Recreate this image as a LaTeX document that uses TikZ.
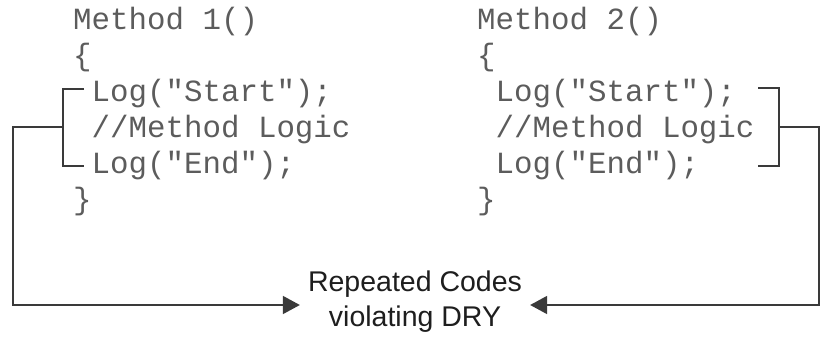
\documentclass[tikz,border=0pt]{standalone}
\usepackage{fontspec}
\setmainfont{Liberation Sans}
\newfontfamily\codefont{Liberation Mono}
\usetikzlibrary{arrows.meta}
\definecolor{codegray}{RGB}{92,92,92}
\definecolor{linegray}{RGB}{58,58,58}
\definecolor{txtdark}{RGB}{30,30,30}
\tikzset{
  code/.style={anchor=base west, inner sep=0pt, text=codegray, font=\codefont\fontsize{30.8}{36}\selectfont},
  brk/.style={draw=linegray, line width=1.7pt},
  arr/.style={brk, -{Triangle[length=17pt,width=18pt]}},
  lbl/.style={align=center, inner xsep=8pt, inner ysep=4pt, text=txtdark, font=\fontsize{28.5}{35}\selectfont}
}
\begin{document}
\begin{tikzpicture}[x=1pt,y=-1pt]
  \useasboundingbox (0,0) rectangle (820,337);
  % first method
  \node[code] (m1head) at (73,29.3) {Method 1()};
  \node[code] (m1open) at (73,65.3) {\{};
  \node[code] (m1start) at (91.5,101.3) {Log("Start");};
  \node[code] (m1logic) at (91.5,137.3) {//Method Logic};
  \node[code] (m1end) at (91.5,173.3) {Log("End");};
  \node[code] (m1close) at (73,209.3) {\}};
  % second method
  \node[code] (m2head) at (477,29.3) {Method 2()};
  \node[code] (m2open) at (477,65.3) {\{};
  \node[code] (m2start) at (495.5,101.3) {Log("Start");};
  \node[code] (m2logic) at (495.5,137.3) {//Method Logic};
  \node[code] (m2end) at (495.5,173.3) {Log("End");};
  \node[code] (m2close) at (477,209.3) {\}};
  % label
  \node[lbl] (dry) at (415,302) {Repeated Codes\\violating DRY};
  % brackets
  \coordinate (b1top) at (84,89);
  \coordinate (b1bot) at (84,166);
  \coordinate (b1mid) at (63,127);
  \coordinate (b1far) at (12.7,305);
  \coordinate (b2top) at (758,88);
  \coordinate (b2bot) at (758,166);
  \coordinate (b2mid) at (779,127);
  \coordinate (b2far) at (819,305);
  \draw[brk] (b1top) -| (b1mid) |- (b1bot);
  \draw[brk] (b2top) -| (b2mid) |- (b2bot);
  \draw[arr] (b1mid) -| (b1far) -- (b1far -| dry.west);
  \draw[arr] (b2mid) -| (b2far) -- (b2far -| dry.east);
\end{tikzpicture}
\end{document}
